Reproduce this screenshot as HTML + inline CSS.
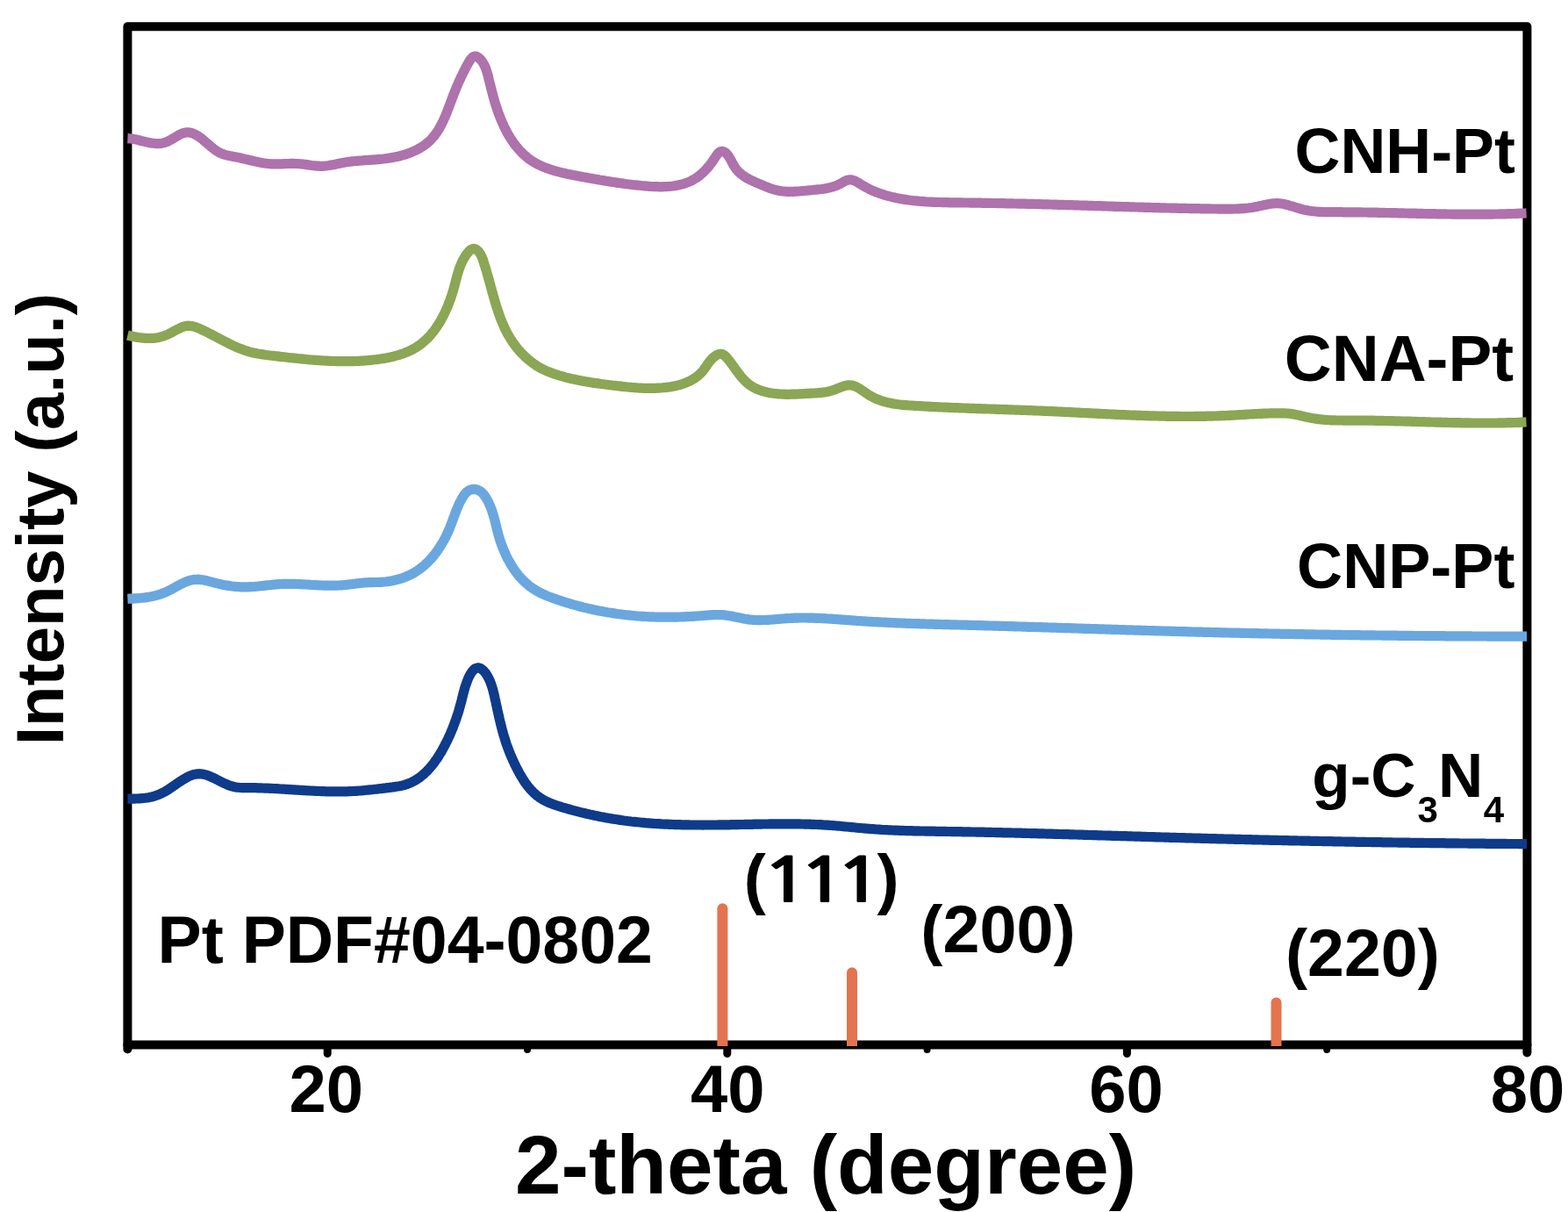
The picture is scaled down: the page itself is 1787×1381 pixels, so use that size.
<!DOCTYPE html>
<html><head><meta charset="utf-8"><title>XRD patterns</title>
<style>
html,body{margin:0;padding:0;background:#fff;}
body{width:1787px;height:1381px;overflow:hidden;}
svg{display:block;}
text{font-family:"Liberation Sans", Arial, sans-serif;font-weight:bold;fill:#000;}
</style></head><body>
<svg width="1787" height="1381" viewBox="0 0 1787 1381">
<rect width="1787" height="1381" fill="#fff"/>
<line x1="373.2" y1="1190.5" x2="373.2" y2="1200.5" stroke="#000" stroke-width="9" stroke-linecap="round"/>
<line x1="601.0" y1="1190.5" x2="601.0" y2="1196" stroke="#000" stroke-width="8" stroke-linecap="round"/>
<line x1="828.8" y1="1190.5" x2="828.8" y2="1200.5" stroke="#000" stroke-width="9" stroke-linecap="round"/>
<line x1="1056.6" y1="1190.5" x2="1056.6" y2="1196" stroke="#000" stroke-width="8" stroke-linecap="round"/>
<line x1="1284.4" y1="1190.5" x2="1284.4" y2="1200.5" stroke="#000" stroke-width="9" stroke-linecap="round"/>
<line x1="1512.2" y1="1190.5" x2="1512.2" y2="1196" stroke="#000" stroke-width="8" stroke-linecap="round"/>
<line x1="145.4" y1="1190.5" x2="145.4" y2="1195.5" stroke="#000" stroke-width="10" stroke-linecap="round"/>
<line x1="1740.4" y1="1190.5" x2="1740.4" y2="1199.5" stroke="#000" stroke-width="10" stroke-linecap="round"/>
<rect x="145.4" y="30.2" width="1595.0" height="1160.3" fill="none" stroke="#000" stroke-width="10" stroke-linejoin="round"/>
<path d="M817.4,1192 V1035.2 A6.0,6.0 0 0 1 829.4,1035.2 V1192 Z" fill="#E3744F"/>
<path d="M965.0,1192 V1108.3 A6.0,6.0 0 0 1 977.0,1108.3 V1192 Z" fill="#E3744F"/>
<path d="M1448.5,1192 V1142.5 A6.0,6.0 0 0 1 1460.5,1142.5 V1192 Z" fill="#E3744F"/>
<path d="M145.4,157.7 L147.4,157.8 L149.4,158.0 L151.4,158.3 L153.4,158.7 L155.3,159.1 L157.3,159.5 L159.2,160.0 L161.2,160.5 L163.1,160.9 L165.1,161.4 L167.0,161.9 L169.0,162.3 L170.9,162.7 L172.9,163.1 L174.9,163.3 L176.9,163.5 L178.9,163.6 L180.9,163.6 L182.9,163.5 L184.9,163.2 L186.8,162.7 L188.7,162.1 L190.6,161.4 L192.4,160.5 L194.2,159.6 L195.9,158.6 L197.6,157.6 L199.4,156.5 L201.1,155.5 L202.8,154.5 L204.6,153.5 L206.4,152.7 L208.2,151.9 L210.1,151.3 L212.1,150.9 L214.1,150.8 L216.1,151.0 L218.1,151.4 L220.0,152.1 L221.8,152.9 L223.6,153.8 L225.3,154.8 L227.0,155.9 L228.6,157.1 L230.2,158.3 L231.7,159.6 L233.3,160.9 L234.8,162.2 L236.3,163.5 L237.8,164.8 L239.3,166.1 L240.8,167.4 L242.4,168.7 L244.0,170.0 L245.6,171.1 L247.2,172.2 L249.0,173.3 L250.7,174.2 L252.6,175.0 L254.4,175.7 L256.4,176.3 L258.3,176.8 L260.2,177.3 L262.2,177.7 L264.2,178.1 L266.1,178.5 L268.1,178.8 L270.1,179.2 L272.1,179.6 L274.0,180.0 L276.0,180.5 L277.9,180.9 L279.9,181.4 L281.8,181.8 L283.8,182.3 L285.7,182.8 L287.7,183.2 L289.6,183.7 L291.6,184.1 L293.5,184.6 L295.5,185.0 L297.5,185.3 L299.4,185.7 L301.4,186.0 L303.4,186.3 L305.4,186.5 L307.4,186.7 L309.4,186.8 L311.4,186.9 L313.4,186.9 L315.4,186.9 L317.4,186.9 L319.4,186.8 L321.4,186.8 L323.4,186.7 L325.4,186.6 L327.4,186.5 L329.4,186.5 L331.4,186.4 L333.4,186.4 L335.4,186.4 L337.4,186.5 L339.4,186.5 L341.4,186.7 L343.4,186.9 L345.4,187.1 L347.4,187.3 L349.4,187.6 L351.4,187.9 L353.4,188.2 L355.4,188.5 L357.4,188.7 L359.3,188.9 L361.3,189.1 L363.3,189.2 L365.3,189.3 L367.3,189.3 L369.3,189.2 L371.3,189.0 L373.3,188.8 L375.3,188.5 L377.3,188.1 L379.3,187.8 L381.2,187.4 L383.2,187.0 L385.2,186.6 L387.1,186.2 L389.1,185.8 L391.1,185.4 L393.0,185.0 L395.0,184.7 L397.0,184.4 L399.0,184.2 L401.0,183.9 L403.0,183.7 L405.0,183.5 L407.0,183.3 L409.0,183.2 L410.9,183.0 L412.9,182.9 L414.9,182.7 L416.9,182.6 L418.9,182.5 L420.9,182.3 L422.9,182.2 L424.9,182.1 L426.9,181.9 L428.9,181.8 L430.9,181.6 L432.9,181.4 L434.9,181.2 L436.9,181.0 L438.9,180.8 L440.9,180.5 L442.9,180.2 L444.9,179.9 L446.8,179.6 L448.8,179.2 L450.8,178.8 L452.7,178.4 L454.7,178.0 L456.6,177.5 L458.6,176.9 L460.5,176.4 L462.4,175.8 L464.3,175.2 L466.2,174.5 L468.1,173.8 L469.9,173.0 L471.8,172.2 L473.6,171.4 L475.4,170.5 L477.1,169.5 L478.9,168.5 L480.6,167.5 L482.3,166.4 L483.9,165.2 L485.5,164.0 L487.1,162.8 L488.6,161.5 L490.1,160.1 L491.5,158.7 L492.8,157.2 L494.1,155.7 L495.4,154.1 L496.6,152.5 L497.7,150.9 L498.8,149.2 L499.9,147.5 L500.9,145.8 L501.9,144.0 L502.8,142.2 L503.7,140.5 L504.6,138.7 L505.5,136.8 L506.3,135.0 L507.1,133.2 L507.9,131.3 L508.6,129.5 L509.4,127.6 L510.1,125.8 L510.8,123.9 L511.6,122.0 L512.3,120.1 L513.0,118.3 L513.7,116.4 L514.4,114.5 L515.1,112.6 L515.8,110.7 L516.5,108.9 L517.2,107.0 L518.0,105.1 L518.7,103.3 L519.5,101.4 L520.2,99.6 L521.0,97.7 L521.8,95.9 L522.6,94.1 L523.4,92.2 L524.3,90.4 L525.1,88.6 L526.0,86.8 L526.9,85.0 L527.7,83.2 L528.6,81.4 L529.5,79.6 L530.5,77.8 L531.4,76.0 L532.3,74.3 L533.3,72.5 L534.3,70.8 L535.3,69.1 L536.5,67.4 L537.8,65.9 L539.3,64.7 L541.2,64.1 L543.2,64.4 L545.0,65.4 L546.5,66.6 L547.9,68.1 L549.2,69.6 L550.3,71.3 L551.3,73.0 L552.2,74.8 L553.1,76.6 L553.8,78.5 L554.4,80.4 L555.0,82.3 L555.6,84.2 L556.1,86.2 L556.6,88.1 L557.1,90.1 L557.5,92.0 L558.0,94.0 L558.5,95.9 L559.0,97.8 L559.5,99.8 L560.0,101.7 L560.5,103.7 L561.0,105.6 L561.5,107.6 L562.0,109.5 L562.5,111.4 L563.1,113.3 L563.6,115.3 L564.2,117.2 L564.8,119.1 L565.4,121.0 L566.0,122.9 L566.7,124.8 L567.3,126.7 L568.0,128.6 L568.7,130.5 L569.4,132.4 L570.1,134.2 L570.9,136.1 L571.7,137.9 L572.5,139.8 L573.3,141.6 L574.1,143.4 L575.0,145.2 L575.9,147.0 L576.8,148.8 L577.7,150.6 L578.7,152.3 L579.7,154.1 L580.7,155.8 L581.8,157.5 L582.9,159.2 L584.0,160.8 L585.1,162.5 L586.3,164.1 L587.5,165.7 L588.8,167.3 L590.0,168.8 L591.4,170.3 L592.7,171.8 L594.1,173.3 L595.5,174.7 L597.0,176.1 L598.4,177.4 L600.0,178.7 L601.5,180.0 L603.1,181.2 L604.8,182.4 L606.4,183.5 L608.1,184.5 L609.8,185.6 L611.6,186.5 L613.4,187.4 L615.2,188.3 L617.0,189.2 L618.8,190.0 L620.7,190.7 L622.6,191.4 L624.5,192.1 L626.3,192.8 L628.3,193.4 L630.2,194.0 L632.1,194.6 L634.0,195.1 L636.0,195.6 L637.9,196.1 L639.8,196.6 L641.8,197.1 L643.7,197.5 L645.7,198.0 L647.7,198.4 L649.6,198.8 L651.6,199.2 L653.6,199.6 L655.5,199.9 L657.5,200.3 L659.5,200.7 L661.4,201.1 L663.4,201.4 L665.4,201.8 L667.3,202.1 L669.3,202.5 L671.3,202.9 L673.3,203.2 L675.2,203.6 L677.2,203.9 L679.2,204.3 L681.2,204.6 L683.1,205.0 L685.1,205.3 L687.1,205.6 L689.1,205.9 L691.0,206.3 L693.0,206.6 L695.0,206.9 L697.0,207.2 L699.0,207.5 L700.9,207.8 L702.9,208.1 L704.9,208.4 L706.9,208.7 L708.9,208.9 L710.9,209.2 L712.9,209.5 L714.8,209.7 L716.8,210.0 L718.8,210.2 L720.8,210.5 L722.8,210.7 L724.8,210.9 L726.8,211.1 L728.8,211.3 L730.8,211.5 L732.8,211.7 L734.8,211.9 L736.8,212.1 L738.8,212.2 L740.8,212.4 L742.8,212.5 L744.8,212.6 L746.8,212.7 L748.8,212.7 L750.8,212.8 L752.8,212.8 L754.8,212.8 L756.8,212.7 L758.8,212.7 L760.8,212.5 L762.8,212.4 L764.8,212.2 L766.8,212.0 L768.8,211.7 L770.7,211.4 L772.7,211.0 L774.7,210.6 L776.6,210.1 L778.6,209.6 L780.5,209.0 L782.4,208.3 L784.2,207.6 L786.1,206.8 L787.9,206.0 L789.7,205.0 L791.4,204.0 L793.1,203.0 L794.8,201.8 L796.4,200.7 L797.9,199.4 L799.5,198.1 L801.0,196.8 L802.4,195.4 L803.8,194.0 L805.2,192.5 L806.5,191.0 L807.8,189.5 L809.1,187.9 L810.3,186.3 L811.5,184.7 L812.6,183.1 L813.7,181.4 L814.8,179.7 L815.9,178.0 L817.1,176.4 L818.3,174.8 L819.8,173.4 L821.5,172.5 L823.5,172.4 L825.4,173.1 L827.0,174.2 L828.5,175.6 L829.8,177.1 L830.9,178.8 L831.9,180.5 L832.9,182.2 L833.8,184.0 L834.7,185.8 L835.7,187.6 L836.7,189.3 L837.8,191.0 L839.0,192.6 L840.3,194.1 L841.6,195.6 L843.1,197.0 L844.6,198.3 L846.2,199.5 L847.8,200.7 L849.5,201.8 L851.2,202.8 L852.9,203.8 L854.7,204.7 L856.5,205.6 L858.3,206.4 L860.2,207.3 L862.0,208.1 L863.9,208.9 L865.7,209.6 L867.5,210.4 L869.4,211.2 L871.2,212.0 L873.1,212.8 L875.0,213.5 L876.8,214.2 L878.7,214.9 L880.6,215.5 L882.5,216.1 L884.5,216.6 L886.4,217.0 L888.4,217.4 L890.4,217.7 L892.4,218.0 L894.4,218.1 L896.4,218.3 L898.4,218.3 L900.4,218.4 L902.4,218.4 L904.4,218.3 L906.4,218.2 L908.4,218.1 L910.4,218.0 L912.4,217.8 L914.4,217.6 L916.4,217.5 L918.4,217.3 L920.4,217.1 L922.4,216.9 L924.4,216.7 L926.4,216.5 L928.3,216.3 L930.3,216.1 L932.3,215.9 L934.3,215.7 L936.3,215.5 L938.3,215.2 L940.3,214.9 L942.3,214.5 L944.2,214.1 L946.2,213.7 L948.1,213.2 L950.0,212.6 L951.9,211.9 L953.8,211.2 L955.6,210.3 L957.4,209.4 L959.2,208.5 L960.9,207.5 L962.7,206.5 L964.5,205.7 L966.4,205.1 L968.4,204.8 L970.4,204.9 L972.3,205.4 L974.2,206.1 L976.0,207.0 L977.7,208.0 L979.5,209.0 L981.2,210.1 L982.9,211.1 L984.6,212.2 L986.3,213.2 L988.1,214.1 L989.9,215.0 L991.7,215.9 L993.5,216.8 L995.3,217.6 L997.2,218.3 L999.0,219.1 L1000.9,219.8 L1002.8,220.4 L1004.7,221.1 L1006.6,221.7 L1008.5,222.3 L1010.4,222.8 L1012.4,223.4 L1014.3,223.9 L1016.3,224.4 L1018.2,224.8 L1020.2,225.3 L1022.1,225.7 L1024.1,226.1 L1026.1,226.4 L1028.0,226.8 L1030.0,227.1 L1032.0,227.4 L1034.0,227.7 L1036.0,228.0 L1038.0,228.2 L1039.9,228.5 L1041.9,228.7 L1043.9,228.9 L1045.9,229.1 L1047.9,229.3 L1049.9,229.4 L1051.9,229.6 L1053.9,229.7 L1055.9,229.9 L1057.9,230.0 L1059.9,230.1 L1061.9,230.2 L1063.9,230.3 L1065.9,230.3 L1067.9,230.4 L1069.9,230.5 L1071.9,230.5 L1073.9,230.6 L1076.0,230.6 L1078.0,230.7 L1080.0,230.7 L1082.0,230.8 L1084.0,230.8 L1086.0,230.8 L1088.0,230.8 L1090.0,230.9 L1092.0,230.9 L1094.0,230.9 L1096.0,230.9 L1098.0,231.0 L1100.0,231.0 L1102.0,231.0 L1104.0,231.0 L1106.0,231.1 L1108.0,231.1 L1110.0,231.1 L1112.0,231.2 L1114.0,231.2 L1116.0,231.2 L1118.0,231.2 L1120.0,231.3 L1122.0,231.3 L1124.1,231.3 L1126.1,231.4 L1128.1,231.4 L1130.1,231.5 L1132.1,231.5 L1134.1,231.5 L1136.1,231.6 L1138.1,231.6 L1140.1,231.6 L1142.1,231.7 L1144.1,231.7 L1146.1,231.8 L1148.1,231.8 L1150.1,231.8 L1152.1,231.9 L1154.1,231.9 L1156.1,232.0 L1158.1,232.0 L1160.1,232.1 L1162.1,232.1 L1164.1,232.2 L1166.1,232.2 L1168.1,232.2 L1170.1,232.3 L1172.1,232.3 L1174.2,232.4 L1176.2,232.4 L1178.2,232.5 L1180.2,232.5 L1182.2,232.6 L1184.2,232.7 L1186.2,232.7 L1188.2,232.8 L1190.2,232.8 L1192.2,232.9 L1194.2,232.9 L1196.2,233.0 L1198.2,233.0 L1200.2,233.1 L1202.2,233.2 L1204.2,233.2 L1206.2,233.3 L1208.2,233.3 L1210.2,233.4 L1212.2,233.4 L1214.2,233.5 L1216.2,233.6 L1218.2,233.6 L1220.2,233.7 L1222.2,233.7 L1224.2,233.8 L1226.2,233.9 L1228.3,233.9 L1230.3,234.0 L1232.3,234.1 L1234.3,234.1 L1236.3,234.2 L1238.3,234.2 L1240.3,234.3 L1242.3,234.4 L1244.3,234.4 L1246.3,234.5 L1248.3,234.6 L1250.3,234.6 L1252.3,234.7 L1254.3,234.7 L1256.3,234.8 L1258.3,234.9 L1260.3,234.9 L1262.3,235.0 L1264.3,235.1 L1266.3,235.1 L1268.3,235.2 L1270.3,235.3 L1272.3,235.3 L1274.3,235.4 L1276.3,235.4 L1278.3,235.5 L1280.3,235.6 L1282.3,235.6 L1284.3,235.7 L1286.4,235.7 L1288.4,235.8 L1290.4,235.9 L1292.4,235.9 L1294.4,236.0 L1296.4,236.0 L1298.4,236.1 L1300.4,236.2 L1302.4,236.2 L1304.4,236.3 L1306.4,236.3 L1308.4,236.4 L1310.4,236.4 L1312.4,236.5 L1314.4,236.6 L1316.4,236.6 L1318.4,236.7 L1320.4,236.7 L1322.4,236.8 L1324.4,236.8 L1326.4,236.9 L1328.4,236.9 L1330.4,237.0 L1332.4,237.0 L1334.4,237.1 L1336.4,237.1 L1338.4,237.2 L1340.5,237.2 L1342.5,237.3 L1344.5,237.3 L1346.5,237.3 L1348.5,237.4 L1350.5,237.4 L1352.5,237.5 L1354.5,237.5 L1356.5,237.6 L1358.5,237.6 L1360.5,237.6 L1362.5,237.7 L1364.5,237.7 L1366.5,237.7 L1368.5,237.8 L1370.5,237.8 L1372.5,237.8 L1374.5,237.9 L1376.5,237.9 L1378.5,237.9 L1380.5,238.0 L1382.5,238.0 L1384.5,238.0 L1386.5,238.0 L1388.6,238.1 L1390.6,238.1 L1392.6,238.1 L1394.6,238.1 L1396.6,238.1 L1398.6,238.1 L1400.6,238.1 L1402.6,238.1 L1404.6,238.1 L1406.6,238.0 L1408.6,238.0 L1410.6,237.9 L1412.6,237.8 L1414.6,237.7 L1416.6,237.6 L1418.6,237.4 L1420.6,237.2 L1422.6,237.0 L1424.6,236.7 L1426.6,236.5 L1428.5,236.2 L1430.5,235.8 L1432.5,235.4 L1434.4,235.0 L1436.4,234.6 L1438.4,234.2 L1440.3,233.7 L1442.3,233.3 L1444.2,232.9 L1446.2,232.5 L1448.2,232.2 L1450.2,231.9 L1452.2,231.8 L1454.2,231.7 L1456.2,231.7 L1458.2,231.8 L1460.2,232.0 L1462.1,232.3 L1464.1,232.7 L1466.1,233.2 L1468.0,233.7 L1469.9,234.3 L1471.8,234.8 L1473.8,235.4 L1475.7,236.0 L1477.6,236.6 L1479.5,237.2 L1481.4,237.8 L1483.4,238.3 L1485.3,238.8 L1487.3,239.3 L1489.2,239.6 L1491.2,240.0 L1493.2,240.3 L1495.2,240.6 L1497.2,240.8 L1499.1,241.0 L1501.1,241.2 L1503.1,241.3 L1505.1,241.4 L1507.1,241.5 L1509.1,241.6 L1511.2,241.6 L1513.2,241.7 L1515.2,241.7 L1517.2,241.7 L1519.2,241.7 L1521.2,241.7 L1523.2,241.7 L1525.2,241.7 L1527.2,241.7 L1529.2,241.7 L1531.2,241.8 L1533.2,241.8 L1535.2,241.8 L1537.2,241.8 L1539.2,241.8 L1541.2,241.8 L1543.2,241.8 L1545.2,241.9 L1547.2,241.9 L1549.2,241.9 L1551.2,241.9 L1553.2,242.0 L1555.2,242.0 L1557.3,242.0 L1559.3,242.1 L1561.3,242.1 L1563.3,242.1 L1565.3,242.2 L1567.3,242.2 L1569.3,242.2 L1571.3,242.3 L1573.3,242.3 L1575.3,242.4 L1577.3,242.4 L1579.3,242.5 L1581.3,242.5 L1583.3,242.5 L1585.3,242.6 L1587.3,242.6 L1589.3,242.7 L1591.3,242.7 L1593.3,242.8 L1595.3,242.8 L1597.3,242.9 L1599.3,242.9 L1601.3,243.0 L1603.3,243.0 L1605.3,243.1 L1607.4,243.1 L1609.4,243.2 L1611.4,243.2 L1613.4,243.2 L1615.4,243.3 L1617.4,243.3 L1619.4,243.4 L1621.4,243.4 L1623.4,243.5 L1625.4,243.5 L1627.4,243.6 L1629.4,243.6 L1631.4,243.6 L1633.4,243.7 L1635.4,243.7 L1637.4,243.8 L1639.4,243.8 L1641.4,243.8 L1643.4,243.9 L1645.4,243.9 L1647.4,243.9 L1649.4,244.0 L1651.4,244.0 L1653.4,244.0 L1655.4,244.1 L1657.5,244.1 L1659.5,244.1 L1661.5,244.1 L1663.5,244.1 L1665.5,244.2 L1667.5,244.2 L1669.5,244.2 L1671.5,244.2 L1673.5,244.2 L1675.5,244.2 L1677.5,244.2 L1679.5,244.2 L1681.5,244.2 L1683.5,244.2 L1685.5,244.2 L1687.5,244.2 L1689.5,244.2 L1691.5,244.2 L1693.5,244.2 L1695.5,244.1 L1697.5,244.1 L1699.5,244.1 L1701.6,244.1 L1703.6,244.0 L1705.6,244.0 L1707.6,244.0 L1709.6,243.9 L1711.6,243.9 L1713.6,243.8 L1715.6,243.8 L1717.6,243.7 L1719.6,243.7 L1721.6,243.6 L1723.6,243.5 L1725.6,243.5 L1727.6,243.4 L1729.6,243.3 L1731.6,243.2 L1733.6,243.2 L1735.6,243.1 L1737.6,243.0 L1739.6,242.9" fill="none" stroke="#AE72AC" stroke-width="11.2" stroke-linejoin="round" stroke-linecap="butt"/>
<path d="M145.4,382.0 L147.4,382.5 L149.3,382.9 L151.3,383.3 L153.2,383.7 L155.2,384.1 L157.2,384.4 L159.2,384.7 L161.1,384.9 L163.1,385.2 L165.1,385.3 L167.1,385.4 L169.1,385.5 L171.1,385.5 L173.1,385.4 L175.1,385.3 L177.1,385.1 L179.1,384.8 L181.1,384.4 L183.0,383.9 L184.9,383.4 L186.8,382.8 L188.7,382.1 L190.6,381.3 L192.4,380.5 L194.2,379.6 L196.0,378.7 L197.7,377.7 L199.5,376.7 L201.2,375.8 L203.0,374.9 L204.8,374.0 L206.6,373.2 L208.5,372.4 L210.4,371.8 L212.4,371.4 L214.4,371.2 L216.4,371.3 L218.4,371.5 L220.3,371.9 L222.3,372.5 L224.1,373.1 L226.0,373.9 L227.8,374.7 L229.7,375.5 L231.5,376.3 L233.3,377.2 L235.1,378.1 L236.9,379.0 L238.7,379.9 L240.5,380.8 L242.2,381.7 L244.0,382.7 L245.8,383.6 L247.5,384.5 L249.3,385.5 L251.1,386.4 L252.9,387.4 L254.6,388.3 L256.4,389.2 L258.2,390.1 L260.0,391.0 L261.8,391.9 L263.6,392.8 L265.4,393.7 L267.2,394.5 L269.0,395.3 L270.9,396.1 L272.7,396.9 L274.6,397.6 L276.4,398.3 L278.3,399.0 L280.2,399.6 L282.1,400.2 L284.1,400.8 L286.0,401.3 L288.0,401.8 L289.9,402.2 L291.9,402.6 L293.8,403.0 L295.8,403.3 L297.8,403.6 L299.8,403.9 L301.8,404.2 L303.7,404.5 L305.7,404.7 L307.7,405.0 L309.7,405.2 L311.7,405.4 L313.7,405.7 L315.7,405.9 L317.7,406.1 L319.7,406.4 L321.6,406.6 L323.6,406.8 L325.6,407.0 L327.6,407.3 L329.6,407.5 L331.6,407.7 L333.6,407.9 L335.6,408.1 L337.6,408.3 L339.6,408.5 L341.6,408.7 L343.5,408.9 L345.5,409.1 L347.5,409.3 L349.5,409.5 L351.5,409.7 L353.5,409.9 L355.5,410.0 L357.5,410.2 L359.5,410.3 L361.5,410.5 L363.5,410.6 L365.5,410.8 L367.5,410.9 L369.5,411.0 L371.5,411.1 L373.5,411.2 L375.5,411.3 L377.5,411.4 L379.5,411.5 L381.5,411.5 L383.5,411.6 L385.5,411.6 L387.5,411.7 L389.5,411.7 L391.5,411.7 L393.5,411.7 L395.5,411.7 L397.5,411.7 L399.5,411.7 L401.5,411.6 L403.5,411.6 L405.5,411.5 L407.5,411.4 L409.5,411.3 L411.5,411.2 L413.5,411.1 L415.5,410.9 L417.5,410.8 L419.5,410.6 L421.5,410.4 L423.5,410.3 L425.5,410.0 L427.5,409.8 L429.5,409.6 L431.5,409.3 L433.5,409.0 L435.4,408.7 L437.4,408.4 L439.4,408.1 L441.4,407.7 L443.3,407.3 L445.3,406.9 L447.2,406.4 L449.2,406.0 L451.1,405.4 L453.0,404.9 L455.0,404.3 L456.9,403.7 L458.8,403.1 L460.6,402.4 L462.5,401.6 L464.4,400.9 L466.2,400.1 L468.0,399.2 L469.8,398.3 L471.5,397.3 L473.3,396.3 L475.0,395.3 L476.7,394.2 L478.3,393.1 L479.9,391.9 L481.5,390.6 L483.0,389.3 L484.5,388.0 L486.0,386.6 L487.4,385.2 L488.8,383.8 L490.1,382.3 L491.4,380.8 L492.7,379.2 L494.0,377.7 L495.2,376.1 L496.4,374.5 L497.5,372.8 L498.6,371.1 L499.7,369.5 L500.8,367.8 L501.8,366.0 L502.8,364.3 L503.7,362.5 L504.7,360.8 L505.6,359.0 L506.5,357.2 L507.3,355.4 L508.2,353.6 L509.0,351.7 L509.8,349.9 L510.6,348.0 L511.3,346.2 L512.0,344.3 L512.7,342.4 L513.4,340.6 L514.0,338.7 L514.7,336.8 L515.3,334.9 L515.9,332.9 L516.5,331.0 L517.0,329.1 L517.5,327.2 L518.1,325.2 L518.6,323.3 L519.1,321.4 L519.6,319.4 L520.1,317.5 L520.6,315.5 L521.1,313.6 L521.7,311.7 L522.3,309.8 L522.9,307.9 L523.5,306.0 L524.2,304.1 L524.9,302.2 L525.7,300.4 L526.5,298.5 L527.4,296.7 L528.4,295.0 L529.4,293.3 L530.4,291.6 L531.6,289.9 L532.8,288.3 L534.1,286.8 L535.5,285.4 L537.1,284.1 L538.9,283.4 L540.9,283.4 L542.7,284.3 L544.3,285.5 L545.7,286.9 L546.9,288.5 L547.9,290.3 L548.8,292.0 L549.6,293.9 L550.3,295.8 L550.9,297.7 L551.5,299.6 L552.1,301.5 L552.7,303.4 L553.3,305.3 L553.9,307.2 L554.5,309.1 L555.0,311.1 L555.6,313.0 L556.1,314.9 L556.7,316.8 L557.2,318.8 L557.7,320.7 L558.3,322.6 L558.8,324.6 L559.3,326.5 L559.9,328.4 L560.4,330.4 L560.9,332.3 L561.4,334.2 L562.0,336.2 L562.5,338.1 L563.1,340.0 L563.6,341.9 L564.2,343.9 L564.8,345.8 L565.3,347.7 L565.9,349.6 L566.6,351.5 L567.2,353.4 L567.8,355.3 L568.5,357.2 L569.1,359.1 L569.8,361.0 L570.5,362.9 L571.3,364.7 L572.0,366.6 L572.8,368.4 L573.6,370.3 L574.4,372.1 L575.2,373.9 L576.1,375.7 L577.0,377.5 L577.9,379.3 L578.9,381.0 L579.9,382.8 L580.9,384.5 L581.9,386.2 L583.0,387.9 L584.1,389.6 L585.3,391.2 L586.4,392.8 L587.6,394.4 L588.9,396.0 L590.1,397.6 L591.4,399.1 L592.8,400.6 L594.1,402.1 L595.5,403.5 L596.9,404.9 L598.4,406.3 L599.8,407.7 L601.3,409.0 L602.9,410.3 L604.4,411.6 L606.0,412.8 L607.6,414.0 L609.3,415.1 L610.9,416.3 L612.6,417.3 L614.3,418.4 L616.1,419.3 L617.8,420.3 L619.6,421.2 L621.4,422.0 L623.3,422.8 L625.1,423.6 L627.0,424.3 L628.9,425.0 L630.8,425.7 L632.7,426.4 L634.6,427.0 L636.5,427.6 L638.4,428.1 L640.3,428.7 L642.2,429.2 L644.2,429.8 L646.1,430.3 L648.1,430.8 L650.0,431.2 L652.0,431.7 L653.9,432.1 L655.9,432.5 L657.8,432.9 L659.8,433.3 L661.8,433.7 L663.7,434.1 L665.7,434.4 L667.7,434.8 L669.6,435.1 L671.6,435.4 L673.6,435.8 L675.6,436.1 L677.6,436.4 L679.5,436.6 L681.5,436.9 L683.5,437.2 L685.5,437.5 L687.5,437.7 L689.5,438.0 L691.5,438.2 L693.4,438.5 L695.4,438.7 L697.4,439.0 L699.4,439.2 L701.4,439.4 L703.4,439.7 L705.4,439.9 L707.4,440.1 L709.4,440.4 L711.3,440.6 L713.3,440.8 L715.3,441.0 L717.3,441.2 L719.3,441.4 L721.3,441.5 L723.3,441.7 L725.3,441.8 L727.3,442.0 L729.3,442.1 L731.3,442.2 L733.3,442.3 L735.3,442.3 L737.3,442.4 L739.3,442.4 L741.3,442.4 L743.3,442.4 L745.3,442.4 L747.3,442.3 L749.3,442.2 L751.3,442.1 L753.3,442.0 L755.3,441.8 L757.3,441.6 L759.3,441.4 L761.3,441.1 L763.3,440.9 L765.3,440.6 L767.2,440.2 L769.2,439.8 L771.1,439.4 L773.1,438.9 L775.0,438.4 L776.9,437.8 L778.8,437.2 L780.7,436.5 L782.6,435.7 L784.4,434.9 L786.2,434.1 L788.0,433.1 L789.7,432.1 L791.4,431.1 L793.1,429.9 L794.7,428.7 L796.2,427.4 L797.7,426.1 L799.1,424.7 L800.5,423.2 L801.7,421.7 L802.9,420.1 L804.1,418.4 L805.2,416.8 L806.4,415.1 L807.5,413.5 L808.7,411.9 L810.0,410.3 L811.3,408.8 L812.8,407.5 L814.3,406.2 L816.0,405.0 L817.7,404.1 L819.6,403.5 L821.6,403.3 L823.6,403.8 L825.3,404.8 L826.9,406.0 L828.2,407.5 L829.5,409.0 L830.8,410.6 L832.0,412.2 L833.2,413.8 L834.4,415.4 L835.6,417.0 L836.7,418.6 L837.9,420.3 L839.1,421.9 L840.3,423.5 L841.5,425.1 L842.7,426.7 L843.9,428.3 L845.2,429.8 L846.5,431.3 L847.9,432.8 L849.3,434.2 L850.7,435.6 L852.2,436.9 L853.8,438.2 L855.4,439.3 L857.1,440.4 L858.8,441.4 L860.6,442.4 L862.4,443.2 L864.3,444.0 L866.2,444.7 L868.1,445.3 L870.0,445.9 L871.9,446.4 L873.9,446.9 L875.8,447.3 L877.8,447.7 L879.8,448.0 L881.7,448.3 L883.7,448.5 L885.7,448.7 L887.7,448.9 L889.7,449.0 L891.7,449.1 L893.7,449.2 L895.7,449.3 L897.7,449.3 L899.7,449.3 L901.7,449.2 L903.7,449.2 L905.7,449.1 L907.7,449.1 L909.7,449.0 L911.7,448.9 L913.7,448.8 L915.7,448.7 L917.7,448.5 L919.7,448.4 L921.7,448.3 L923.7,448.2 L925.7,448.1 L927.7,448.0 L929.7,447.9 L931.7,447.8 L933.7,447.6 L935.7,447.4 L937.7,447.2 L939.7,446.9 L941.7,446.6 L943.6,446.2 L945.6,445.7 L947.5,445.2 L949.4,444.6 L951.3,443.9 L953.2,443.2 L955.0,442.4 L956.9,441.7 L958.8,441.0 L960.6,440.3 L962.6,439.7 L964.5,439.2 L966.5,438.9 L968.5,438.9 L970.5,439.0 L972.4,439.5 L974.3,440.1 L976.2,441.0 L977.9,441.9 L979.7,442.9 L981.3,444.0 L983.0,445.1 L984.7,446.2 L986.3,447.4 L988.0,448.5 L989.6,449.6 L991.3,450.7 L993.1,451.7 L994.8,452.6 L996.6,453.5 L998.4,454.3 L1000.3,455.1 L1002.2,455.8 L1004.0,456.5 L1005.9,457.1 L1007.9,457.7 L1009.8,458.2 L1011.7,458.7 L1013.7,459.1 L1015.7,459.5 L1017.6,459.9 L1019.6,460.2 L1021.6,460.5 L1023.6,460.8 L1025.6,461.0 L1027.6,461.2 L1029.6,461.4 L1031.5,461.6 L1033.5,461.7 L1035.5,461.9 L1037.5,462.0 L1039.5,462.1 L1041.5,462.3 L1043.5,462.4 L1045.5,462.5 L1047.5,462.6 L1049.5,462.7 L1051.5,462.8 L1053.5,463.0 L1055.5,463.1 L1057.5,463.2 L1059.5,463.3 L1061.5,463.4 L1063.5,463.5 L1065.5,463.6 L1067.5,463.7 L1069.5,463.8 L1071.5,463.9 L1073.5,464.0 L1075.5,464.1 L1077.5,464.1 L1079.5,464.2 L1081.5,464.3 L1083.5,464.4 L1085.5,464.5 L1087.6,464.6 L1089.6,464.7 L1091.6,464.7 L1093.6,464.8 L1095.6,464.9 L1097.6,465.0 L1099.6,465.0 L1101.6,465.1 L1103.6,465.2 L1105.6,465.3 L1107.6,465.3 L1109.6,465.4 L1111.6,465.5 L1113.6,465.6 L1115.6,465.6 L1117.6,465.7 L1119.6,465.8 L1121.6,465.8 L1123.6,465.9 L1125.6,466.0 L1127.6,466.0 L1129.6,466.1 L1131.6,466.2 L1133.6,466.2 L1135.6,466.3 L1137.6,466.4 L1139.6,466.4 L1141.6,466.5 L1143.6,466.6 L1145.6,466.6 L1147.6,466.7 L1149.6,466.8 L1151.6,466.8 L1153.6,466.9 L1155.6,467.0 L1157.6,467.1 L1159.6,467.1 L1161.6,467.2 L1163.6,467.3 L1165.6,467.3 L1167.6,467.4 L1169.6,467.5 L1171.6,467.6 L1173.6,467.6 L1175.6,467.7 L1177.6,467.8 L1179.6,467.9 L1181.6,468.0 L1183.6,468.0 L1185.6,468.1 L1187.6,468.2 L1189.6,468.3 L1191.6,468.4 L1193.6,468.5 L1195.6,468.6 L1197.6,468.6 L1199.6,468.7 L1201.6,468.8 L1203.6,468.9 L1205.6,469.0 L1207.6,469.1 L1209.6,469.2 L1211.6,469.3 L1213.6,469.4 L1215.6,469.5 L1217.6,469.6 L1219.6,469.7 L1221.6,469.8 L1223.6,469.9 L1225.6,470.0 L1227.6,470.1 L1229.6,470.2 L1231.7,470.3 L1233.7,470.4 L1235.7,470.5 L1237.7,470.6 L1239.7,470.7 L1241.7,470.8 L1243.7,470.9 L1245.7,471.0 L1247.7,471.1 L1249.7,471.2 L1251.7,471.3 L1253.7,471.4 L1255.7,471.5 L1257.7,471.6 L1259.7,471.7 L1261.7,471.8 L1263.7,471.9 L1265.7,472.0 L1267.7,472.1 L1269.7,472.2 L1271.7,472.3 L1273.7,472.4 L1275.7,472.5 L1277.7,472.6 L1279.7,472.6 L1281.7,472.7 L1283.7,472.8 L1285.7,472.9 L1287.7,473.0 L1289.7,473.1 L1291.7,473.1 L1293.7,473.2 L1295.7,473.3 L1297.7,473.4 L1299.7,473.4 L1301.7,473.5 L1303.7,473.6 L1305.7,473.6 L1307.7,473.7 L1309.7,473.8 L1311.7,473.8 L1313.7,473.9 L1315.7,473.9 L1317.7,474.0 L1319.7,474.0 L1321.7,474.1 L1323.7,474.1 L1325.7,474.2 L1327.7,474.2 L1329.7,474.3 L1331.7,474.3 L1333.7,474.3 L1335.7,474.4 L1337.7,474.4 L1339.7,474.4 L1341.7,474.4 L1343.7,474.4 L1345.7,474.5 L1347.7,474.5 L1349.7,474.5 L1351.7,474.5 L1353.7,474.5 L1355.8,474.5 L1357.8,474.5 L1359.8,474.5 L1361.8,474.4 L1363.8,474.4 L1365.8,474.4 L1367.8,474.4 L1369.8,474.3 L1371.8,474.3 L1373.8,474.3 L1375.8,474.2 L1377.8,474.2 L1379.8,474.1 L1381.8,474.1 L1383.8,474.0 L1385.8,474.0 L1387.8,473.9 L1389.8,473.8 L1391.8,473.7 L1393.8,473.7 L1395.8,473.6 L1397.8,473.5 L1399.8,473.4 L1401.8,473.3 L1403.8,473.2 L1405.8,473.1 L1407.8,473.0 L1409.8,472.8 L1411.8,472.7 L1413.8,472.6 L1415.8,472.5 L1417.8,472.4 L1419.8,472.3 L1421.8,472.1 L1423.8,472.0 L1425.8,471.9 L1427.8,471.8 L1429.8,471.7 L1431.8,471.6 L1433.8,471.5 L1435.8,471.4 L1437.8,471.3 L1439.8,471.2 L1441.8,471.1 L1443.8,471.1 L1445.8,471.0 L1447.8,470.9 L1449.8,470.9 L1451.8,470.8 L1453.8,470.8 L1455.8,470.8 L1457.8,470.8 L1459.8,470.8 L1461.8,470.8 L1463.8,470.9 L1465.8,471.0 L1467.8,471.1 L1469.8,471.3 L1471.8,471.6 L1473.8,471.9 L1475.8,472.3 L1477.7,472.7 L1479.7,473.1 L1481.6,473.5 L1483.6,474.0 L1485.5,474.4 L1487.5,474.9 L1489.4,475.3 L1491.4,475.7 L1493.4,476.1 L1495.3,476.5 L1497.3,476.8 L1499.3,477.1 L1501.3,477.4 L1503.3,477.7 L1505.2,477.9 L1507.2,478.1 L1509.2,478.3 L1511.2,478.4 L1513.2,478.5 L1515.2,478.7 L1517.2,478.8 L1519.2,478.8 L1521.2,478.9 L1523.2,479.0 L1525.2,479.0 L1527.2,479.0 L1529.2,479.0 L1531.2,479.1 L1533.3,479.1 L1535.3,479.1 L1537.3,479.1 L1539.3,479.1 L1541.3,479.1 L1543.3,479.1 L1545.3,479.1 L1547.3,479.1 L1549.3,479.1 L1551.3,479.1 L1553.3,479.1 L1555.3,479.1 L1557.3,479.1 L1559.3,479.2 L1561.3,479.2 L1563.3,479.2 L1565.3,479.2 L1567.3,479.3 L1569.3,479.3 L1571.3,479.3 L1573.3,479.4 L1575.3,479.4 L1577.3,479.5 L1579.3,479.5 L1581.3,479.6 L1583.3,479.6 L1585.3,479.7 L1587.3,479.7 L1589.3,479.8 L1591.3,479.8 L1593.3,479.9 L1595.3,479.9 L1597.3,480.0 L1599.3,480.0 L1601.3,480.1 L1603.3,480.1 L1605.3,480.2 L1607.4,480.2 L1609.4,480.3 L1611.4,480.4 L1613.4,480.4 L1615.4,480.5 L1617.4,480.5 L1619.4,480.6 L1621.4,480.7 L1623.4,480.7 L1625.4,480.8 L1627.4,480.8 L1629.4,480.9 L1631.4,481.0 L1633.4,481.0 L1635.4,481.1 L1637.4,481.1 L1639.4,481.2 L1641.4,481.2 L1643.4,481.3 L1645.4,481.3 L1647.4,481.4 L1649.4,481.4 L1651.4,481.5 L1653.4,481.5 L1655.4,481.6 L1657.4,481.6 L1659.4,481.7 L1661.4,481.7 L1663.4,481.7 L1665.4,481.8 L1667.4,481.8 L1669.4,481.8 L1671.4,481.9 L1673.4,481.9 L1675.4,481.9 L1677.4,482.0 L1679.4,482.0 L1681.4,482.0 L1683.4,482.0 L1685.4,482.0 L1687.4,482.0 L1689.5,482.0 L1691.5,482.0 L1693.5,482.0 L1695.5,482.0 L1697.5,482.0 L1699.5,482.0 L1701.5,482.0 L1703.5,482.0 L1705.5,482.0 L1707.5,481.9 L1709.5,481.9 L1711.5,481.9 L1713.5,481.8 L1715.5,481.8 L1717.5,481.7 L1719.5,481.7 L1721.5,481.6 L1723.5,481.6 L1725.5,481.5 L1727.5,481.5 L1729.5,481.4 L1731.5,481.3 L1733.5,481.2 L1735.5,481.1 L1737.5,481.0 L1739.5,480.9" fill="none" stroke="#8BA654" stroke-width="11.2" stroke-linejoin="round" stroke-linecap="butt"/>
<path d="M145.4,682.3 L147.4,682.2 L149.4,682.1 L151.4,682.1 L153.4,681.9 L155.4,681.8 L157.4,681.7 L159.4,681.5 L161.4,681.3 L163.4,681.1 L165.4,680.9 L167.3,680.6 L169.3,680.3 L171.3,680.0 L173.2,679.6 L175.2,679.1 L177.2,678.7 L179.1,678.2 L181.0,677.6 L182.9,677.0 L184.8,676.3 L186.7,675.6 L188.5,674.8 L190.3,674.0 L192.2,673.1 L193.9,672.2 L195.7,671.3 L197.5,670.3 L199.2,669.4 L201.0,668.4 L202.7,667.4 L204.5,666.5 L206.3,665.6 L208.0,664.7 L209.9,663.8 L211.7,663.0 L213.6,662.3 L215.5,661.7 L217.4,661.1 L219.4,660.7 L221.3,660.4 L223.3,660.3 L225.3,660.2 L227.3,660.3 L229.3,660.6 L231.3,660.8 L233.3,661.2 L235.2,661.6 L237.2,662.1 L239.1,662.6 L241.1,663.1 L243.0,663.6 L244.9,664.1 L246.9,664.6 L248.8,665.1 L250.8,665.6 L252.7,666.0 L254.7,666.4 L256.6,666.8 L258.6,667.1 L260.6,667.4 L262.6,667.7 L264.6,668.0 L266.5,668.2 L268.5,668.4 L270.5,668.5 L272.5,668.7 L274.5,668.8 L276.5,668.8 L278.5,668.9 L280.5,668.8 L282.5,668.8 L284.5,668.7 L286.5,668.6 L288.5,668.5 L290.5,668.4 L292.5,668.2 L294.5,668.0 L296.5,667.8 L298.5,667.6 L300.5,667.4 L302.5,667.1 L304.5,666.9 L306.5,666.7 L308.5,666.5 L310.5,666.3 L312.4,666.1 L314.4,665.9 L316.4,665.7 L318.4,665.6 L320.4,665.5 L322.4,665.4 L324.4,665.4 L326.4,665.3 L328.4,665.3 L330.4,665.3 L332.4,665.3 L334.4,665.4 L336.4,665.4 L338.5,665.5 L340.5,665.6 L342.5,665.7 L344.5,665.8 L346.5,665.9 L348.5,666.0 L350.4,666.1 L352.4,666.2 L354.4,666.4 L356.4,666.5 L358.4,666.6 L360.4,666.7 L362.4,666.8 L364.4,666.9 L366.4,667.0 L368.4,667.1 L370.4,667.1 L372.4,667.2 L374.4,667.2 L376.5,667.2 L378.5,667.2 L380.5,667.2 L382.5,667.2 L384.5,667.1 L386.5,667.0 L388.5,666.9 L390.5,666.8 L392.5,666.6 L394.4,666.4 L396.4,666.2 L398.4,665.9 L400.4,665.7 L402.4,665.4 L404.4,665.2 L406.4,664.9 L408.4,664.7 L410.3,664.4 L412.3,664.2 L414.3,664.0 L416.3,663.9 L418.3,663.8 L420.3,663.7 L422.3,663.6 L424.3,663.6 L426.3,663.5 L428.3,663.5 L430.3,663.5 L432.3,663.4 L434.3,663.3 L436.3,663.2 L438.3,663.0 L440.3,662.8 L442.3,662.5 L444.3,662.2 L446.3,661.9 L448.2,661.5 L450.2,661.0 L452.1,660.6 L454.1,660.0 L456.0,659.5 L457.9,658.9 L459.8,658.2 L461.6,657.5 L463.5,656.7 L465.3,656.0 L467.2,655.1 L468.9,654.2 L470.7,653.3 L472.4,652.3 L474.2,651.2 L475.8,650.1 L477.5,649.0 L479.1,647.8 L480.7,646.6 L482.2,645.3 L483.8,644.0 L485.2,642.7 L486.7,641.3 L488.1,639.9 L489.5,638.5 L490.9,637.0 L492.2,635.5 L493.5,634.0 L494.8,632.4 L496.0,630.8 L497.2,629.2 L498.4,627.6 L499.5,626.0 L500.6,624.3 L501.7,622.6 L502.8,620.9 L503.8,619.2 L504.8,617.5 L505.8,615.7 L506.7,614.0 L507.7,612.2 L508.6,610.4 L509.4,608.6 L510.3,606.8 L511.1,605.0 L511.9,603.1 L512.7,601.3 L513.4,599.4 L514.1,597.6 L514.8,595.7 L515.5,593.8 L516.2,591.9 L516.9,590.0 L517.6,588.2 L518.3,586.3 L519.0,584.4 L519.7,582.5 L520.4,580.7 L521.2,578.8 L522.0,577.0 L522.8,575.1 L523.6,573.3 L524.5,571.5 L525.5,569.8 L526.4,568.0 L527.4,566.3 L528.5,564.6 L529.7,563.0 L531.0,561.5 L532.5,560.1 L534.2,559.0 L536.0,558.2 L537.9,557.6 L539.9,557.4 L541.9,557.6 L543.8,558.0 L545.7,558.8 L547.4,559.8 L549.0,561.0 L550.4,562.5 L551.7,564.0 L552.8,565.6 L553.9,567.3 L554.9,569.0 L555.9,570.8 L556.8,572.6 L557.6,574.4 L558.5,576.2 L559.2,578.1 L559.9,579.9 L560.6,581.8 L561.2,583.7 L561.8,585.6 L562.4,587.6 L563.0,589.5 L563.5,591.4 L564.0,593.4 L564.5,595.3 L564.9,597.2 L565.4,599.2 L565.9,601.1 L566.4,603.1 L566.9,605.0 L567.4,607.0 L567.9,608.9 L568.4,610.8 L569.0,612.7 L569.6,614.6 L570.2,616.6 L570.9,618.4 L571.5,620.3 L572.2,622.2 L573.0,624.1 L573.7,625.9 L574.5,627.8 L575.3,629.6 L576.1,631.4 L577.0,633.3 L577.8,635.1 L578.7,636.8 L579.7,638.6 L580.7,640.4 L581.7,642.1 L582.7,643.8 L583.7,645.5 L584.8,647.2 L585.9,648.9 L587.1,650.5 L588.3,652.1 L589.5,653.7 L590.7,655.3 L592.0,656.8 L593.3,658.3 L594.7,659.8 L596.1,661.2 L597.5,662.6 L599.0,664.0 L600.5,665.3 L602.0,666.6 L603.6,667.9 L605.2,669.1 L606.8,670.2 L608.5,671.3 L610.2,672.4 L611.9,673.4 L613.7,674.4 L615.4,675.3 L617.2,676.2 L619.1,677.0 L620.9,677.8 L622.7,678.6 L624.6,679.4 L626.4,680.1 L628.3,680.8 L630.2,681.5 L632.1,682.2 L634.0,682.8 L635.9,683.5 L637.8,684.1 L639.7,684.7 L641.6,685.4 L643.5,686.0 L645.4,686.6 L647.3,687.2 L649.2,687.7 L651.1,688.3 L653.1,688.9 L655.0,689.4 L656.9,689.9 L658.9,690.5 L660.8,691.0 L662.7,691.5 L664.7,692.0 L666.6,692.4 L668.6,692.9 L670.5,693.4 L672.5,693.8 L674.4,694.2 L676.4,694.7 L678.3,695.1 L680.3,695.5 L682.3,695.9 L684.2,696.2 L686.2,696.6 L688.2,697.0 L690.1,697.3 L692.1,697.7 L694.1,698.0 L696.1,698.3 L698.0,698.6 L700.0,698.9 L702.0,699.2 L704.0,699.5 L706.0,699.7 L708.0,700.0 L709.9,700.3 L711.9,700.5 L713.9,700.7 L715.9,700.9 L717.9,701.1 L719.9,701.3 L721.9,701.5 L723.9,701.7 L725.9,701.9 L727.9,702.0 L729.9,702.2 L731.9,702.3 L733.9,702.4 L735.9,702.5 L737.9,702.7 L739.9,702.8 L741.9,702.8 L743.9,702.9 L745.9,703.0 L747.9,703.1 L749.9,703.1 L751.9,703.1 L753.9,703.2 L755.9,703.2 L757.9,703.2 L759.9,703.2 L761.9,703.2 L763.9,703.2 L765.9,703.2 L767.9,703.2 L769.9,703.1 L771.9,703.1 L773.9,703.0 L775.9,703.0 L777.9,702.9 L779.9,702.8 L781.9,702.7 L783.9,702.6 L785.9,702.5 L787.9,702.4 L789.9,702.3 L791.9,702.2 L793.9,702.0 L795.9,701.9 L797.9,701.7 L799.9,701.5 L801.9,701.4 L803.9,701.2 L805.9,701.1 L807.9,700.9 L809.9,700.8 L811.9,700.7 L813.9,700.6 L815.9,700.5 L817.9,700.5 L819.9,700.5 L821.9,700.6 L823.9,700.7 L825.9,700.9 L827.9,701.2 L829.8,701.5 L831.8,701.8 L833.8,702.1 L835.7,702.5 L837.7,702.9 L839.7,703.3 L841.6,703.7 L843.6,704.1 L845.6,704.5 L847.5,704.9 L849.5,705.3 L851.5,705.6 L853.4,705.9 L855.4,706.1 L857.4,706.3 L859.4,706.4 L861.4,706.5 L863.4,706.6 L865.4,706.6 L867.4,706.6 L869.4,706.5 L871.4,706.5 L873.4,706.4 L875.4,706.3 L877.4,706.2 L879.4,706.0 L881.4,705.9 L883.4,705.7 L885.4,705.5 L887.4,705.4 L889.4,705.2 L891.4,705.0 L893.4,704.9 L895.4,704.7 L897.4,704.6 L899.4,704.5 L901.4,704.4 L903.4,704.3 L905.4,704.2 L907.4,704.1 L909.4,704.1 L911.4,704.0 L913.4,704.0 L915.4,704.0 L917.4,704.0 L919.4,704.0 L921.4,704.1 L923.4,704.1 L925.4,704.1 L927.4,704.2 L929.4,704.3 L931.4,704.3 L933.4,704.4 L935.4,704.5 L937.4,704.6 L939.4,704.7 L941.4,704.8 L943.4,705.0 L945.4,705.1 L947.4,705.2 L949.4,705.3 L951.4,705.5 L953.4,705.6 L955.4,705.8 L957.4,705.9 L959.4,706.1 L961.4,706.2 L963.4,706.3 L965.4,706.5 L967.4,706.6 L969.4,706.8 L971.4,706.9 L973.4,707.1 L975.4,707.2 L977.4,707.4 L979.4,707.5 L981.4,707.6 L983.4,707.8 L985.4,707.9 L987.4,708.0 L989.4,708.2 L991.4,708.3 L993.4,708.4 L995.4,708.5 L997.4,708.6 L999.4,708.7 L1001.4,708.8 L1003.4,708.9 L1005.4,709.0 L1007.4,709.1 L1009.4,709.2 L1011.4,709.3 L1013.4,709.4 L1015.4,709.5 L1017.4,709.6 L1019.4,709.7 L1021.4,709.8 L1023.4,709.9 L1025.4,709.9 L1027.4,710.0 L1029.4,710.1 L1031.4,710.2 L1033.4,710.3 L1035.4,710.3 L1037.4,710.4 L1039.4,710.5 L1041.4,710.5 L1043.4,710.6 L1045.4,710.7 L1047.4,710.7 L1049.4,710.8 L1051.4,710.9 L1053.4,710.9 L1055.4,711.0 L1057.4,711.1 L1059.4,711.1 L1061.4,711.2 L1063.4,711.2 L1065.4,711.3 L1067.4,711.3 L1069.4,711.4 L1071.4,711.5 L1073.4,711.5 L1075.4,711.6 L1077.4,711.6 L1079.4,711.7 L1081.4,711.7 L1083.4,711.8 L1085.4,711.8 L1087.4,711.9 L1089.4,711.9 L1091.4,712.0 L1093.4,712.0 L1095.4,712.1 L1097.4,712.1 L1099.4,712.2 L1101.4,712.2 L1103.4,712.3 L1105.4,712.4 L1107.4,712.4 L1109.4,712.5 L1111.4,712.5 L1113.4,712.6 L1115.4,712.6 L1117.4,712.7 L1119.4,712.7 L1121.4,712.8 L1123.4,712.8 L1125.4,712.9 L1127.4,713.0 L1129.4,713.0 L1131.4,713.1 L1133.4,713.1 L1135.4,713.2 L1137.4,713.2 L1139.4,713.3 L1141.4,713.4 L1143.4,713.4 L1145.4,713.5 L1147.4,713.5 L1149.5,713.6 L1151.5,713.7 L1153.5,713.7 L1155.5,713.8 L1157.5,713.8 L1159.5,713.9 L1161.5,714.0 L1163.5,714.0 L1165.5,714.1 L1167.5,714.1 L1169.5,714.2 L1171.5,714.3 L1173.5,714.3 L1175.5,714.4 L1177.5,714.4 L1179.5,714.5 L1181.5,714.6 L1183.5,714.6 L1185.5,714.7 L1187.5,714.7 L1189.5,714.8 L1191.5,714.9 L1193.5,714.9 L1195.5,715.0 L1197.5,715.1 L1199.5,715.1 L1201.5,715.2 L1203.5,715.2 L1205.5,715.3 L1207.5,715.4 L1209.5,715.4 L1211.5,715.5 L1213.5,715.6 L1215.5,715.6 L1217.5,715.7 L1219.5,715.7 L1221.5,715.8 L1223.5,715.9 L1225.5,715.9 L1227.5,716.0 L1229.5,716.1 L1231.5,716.1 L1233.5,716.2 L1235.5,716.3 L1237.5,716.3 L1239.5,716.4 L1241.5,716.4 L1243.5,716.5 L1245.5,716.6 L1247.5,716.6 L1249.5,716.7 L1251.5,716.8 L1253.5,716.8 L1255.5,716.9 L1257.5,716.9 L1259.5,717.0 L1261.5,717.1 L1263.5,717.1 L1265.5,717.2 L1267.5,717.3 L1269.5,717.3 L1271.5,717.4 L1273.5,717.4 L1275.5,717.5 L1277.5,717.6 L1279.5,717.6 L1281.5,717.7 L1283.5,717.8 L1285.5,717.8 L1287.5,717.9 L1289.5,717.9 L1291.5,718.0 L1293.6,718.1 L1295.6,718.1 L1297.6,718.2 L1299.6,718.2 L1301.6,718.3 L1303.6,718.4 L1305.6,718.4 L1307.6,718.5 L1309.6,718.5 L1311.6,718.6 L1313.6,718.7 L1315.6,718.7 L1317.6,718.8 L1319.6,718.8 L1321.6,718.9 L1323.6,719.0 L1325.6,719.0 L1327.6,719.1 L1329.6,719.1 L1331.6,719.2 L1333.6,719.2 L1335.6,719.3 L1337.6,719.4 L1339.6,719.4 L1341.6,719.5 L1343.6,719.5 L1345.6,719.6 L1347.6,719.6 L1349.6,719.7 L1351.6,719.7 L1353.6,719.8 L1355.6,719.9 L1357.6,719.9 L1359.6,720.0 L1361.6,720.0 L1363.6,720.1 L1365.6,720.1 L1367.6,720.2 L1369.6,720.2 L1371.6,720.3 L1373.6,720.3 L1375.6,720.4 L1377.6,720.4 L1379.6,720.5 L1381.6,720.5 L1383.6,720.6 L1385.6,720.6 L1387.6,720.7 L1389.6,720.7 L1391.6,720.8 L1393.6,720.8 L1395.6,720.9 L1397.6,720.9 L1399.6,721.0 L1401.6,721.0 L1403.6,721.1 L1405.6,721.1 L1407.6,721.2 L1409.6,721.2 L1411.6,721.2 L1413.6,721.3 L1415.6,721.3 L1417.7,721.4 L1419.7,721.4 L1421.7,721.5 L1423.7,721.5 L1425.7,721.6 L1427.7,721.6 L1429.7,721.6 L1431.7,721.7 L1433.7,721.7 L1435.7,721.8 L1437.7,721.8 L1439.7,721.9 L1441.7,721.9 L1443.7,721.9 L1445.7,722.0 L1447.7,722.0 L1449.7,722.1 L1451.7,722.1 L1453.7,722.1 L1455.7,722.2 L1457.7,722.2 L1459.7,722.3 L1461.7,722.3 L1463.7,722.3 L1465.7,722.4 L1467.7,722.4 L1469.7,722.4 L1471.7,722.5 L1473.7,722.5 L1475.7,722.6 L1477.7,722.6 L1479.7,722.6 L1481.7,722.7 L1483.7,722.7 L1485.7,722.7 L1487.7,722.8 L1489.7,722.8 L1491.7,722.8 L1493.7,722.9 L1495.7,722.9 L1497.7,722.9 L1499.7,723.0 L1501.7,723.0 L1503.7,723.0 L1505.7,723.1 L1507.7,723.1 L1509.7,723.1 L1511.7,723.2 L1513.7,723.2 L1515.7,723.2 L1517.7,723.3 L1519.8,723.3 L1521.8,723.3 L1523.8,723.4 L1525.8,723.4 L1527.8,723.4 L1529.8,723.5 L1531.8,723.5 L1533.8,723.5 L1535.8,723.5 L1537.8,723.6 L1539.8,723.6 L1541.8,723.6 L1543.8,723.7 L1545.8,723.7 L1547.8,723.7 L1549.8,723.7 L1551.8,723.8 L1553.8,723.8 L1555.8,723.8 L1557.8,723.8 L1559.8,723.9 L1561.8,723.9 L1563.8,723.9 L1565.8,723.9 L1567.8,724.0 L1569.8,724.0 L1571.8,724.0 L1573.8,724.0 L1575.8,724.1 L1577.8,724.1 L1579.8,724.1 L1581.8,724.1 L1583.8,724.2 L1585.8,724.2 L1587.8,724.2 L1589.8,724.2 L1591.8,724.2 L1593.8,724.3 L1595.8,724.3 L1597.8,724.3 L1599.8,724.3 L1601.8,724.4 L1603.8,724.4 L1605.8,724.4 L1607.8,724.4 L1609.9,724.4 L1611.9,724.5 L1613.9,724.5 L1615.9,724.5 L1617.9,724.5 L1619.9,724.5 L1621.9,724.5 L1623.9,724.6 L1625.9,724.6 L1627.9,724.6 L1629.9,724.6 L1631.9,724.6 L1633.9,724.7 L1635.9,724.7 L1637.9,724.7 L1639.9,724.7 L1641.9,724.7 L1643.9,724.7 L1645.9,724.7 L1647.9,724.8 L1649.9,724.8 L1651.9,724.8 L1653.9,724.8 L1655.9,724.8 L1657.9,724.8 L1659.9,724.8 L1661.9,724.9 L1663.9,724.9 L1665.9,724.9 L1667.9,724.9 L1669.9,724.9 L1671.9,724.9 L1673.9,724.9 L1675.9,724.9 L1677.9,725.0 L1679.9,725.0 L1681.9,725.0 L1683.9,725.0 L1685.9,725.0 L1687.9,725.0 L1689.9,725.0 L1691.9,725.0 L1693.9,725.0 L1695.9,725.1 L1698.0,725.1 L1700.0,725.1 L1702.0,725.1 L1704.0,725.1 L1706.0,725.1 L1708.0,725.1 L1710.0,725.1 L1712.0,725.1 L1714.0,725.1 L1716.0,725.1 L1718.0,725.1 L1720.0,725.2 L1722.0,725.2 L1724.0,725.2 L1726.0,725.2 L1728.0,725.2 L1730.0,725.2 L1732.0,725.2 L1734.0,725.2 L1736.0,725.2 L1738.0,725.2 L1740.0,725.2" fill="none" stroke="#6AA7DF" stroke-width="11.2" stroke-linejoin="round" stroke-linecap="butt"/>
<path d="M145.4,910.1 L147.4,910.1 L149.4,910.1 L151.4,910.1 L153.4,910.1 L155.4,910.0 L157.4,910.0 L159.4,909.8 L161.4,909.7 L163.4,909.5 L165.4,909.3 L167.4,909.0 L169.3,908.7 L171.3,908.3 L173.3,907.9 L175.2,907.3 L177.1,906.8 L179.0,906.1 L180.9,905.4 L182.7,904.6 L184.5,903.7 L186.3,902.8 L188.1,901.8 L189.8,900.8 L191.5,899.8 L193.2,898.7 L194.8,897.6 L196.5,896.4 L198.1,895.3 L199.8,894.2 L201.4,893.0 L203.1,891.9 L204.7,890.8 L206.4,889.7 L208.1,888.6 L209.8,887.6 L211.6,886.6 L213.3,885.6 L215.1,884.7 L217.0,883.9 L218.8,883.2 L220.7,882.6 L222.7,882.2 L224.7,881.9 L226.7,881.7 L228.7,881.8 L230.7,882.0 L232.6,882.4 L234.6,882.9 L236.5,883.5 L238.3,884.2 L240.2,885.0 L242.0,885.8 L243.8,886.6 L245.6,887.5 L247.4,888.4 L249.2,889.4 L251.0,890.3 L252.8,891.2 L254.6,892.1 L256.4,892.9 L258.2,893.7 L260.1,894.5 L261.9,895.2 L263.8,895.8 L265.8,896.3 L267.7,896.8 L269.7,897.1 L271.7,897.3 L273.7,897.5 L275.7,897.6 L277.7,897.6 L279.7,897.6 L281.7,897.6 L283.7,897.6 L285.7,897.7 L287.7,897.7 L289.7,897.7 L291.7,897.7 L293.7,897.8 L295.7,897.8 L297.7,897.9 L299.7,898.0 L301.7,898.1 L303.7,898.1 L305.7,898.2 L307.7,898.3 L309.7,898.4 L311.7,898.5 L313.7,898.6 L315.7,898.7 L317.7,898.8 L319.7,899.0 L321.7,899.1 L323.7,899.2 L325.7,899.3 L327.7,899.4 L329.7,899.6 L331.7,899.7 L333.7,899.8 L335.7,899.9 L337.7,900.1 L339.7,900.2 L341.7,900.3 L343.7,900.4 L345.7,900.6 L347.7,900.7 L349.7,900.8 L351.7,900.9 L353.7,901.0 L355.7,901.1 L357.7,901.2 L359.7,901.3 L361.7,901.4 L363.7,901.5 L365.7,901.6 L367.7,901.6 L369.7,901.7 L371.7,901.8 L373.7,901.8 L375.7,901.9 L377.7,901.9 L379.7,901.9 L381.7,901.9 L383.7,901.9 L385.7,901.9 L387.7,901.9 L389.8,901.9 L391.8,901.9 L393.8,901.8 L395.8,901.8 L397.8,901.7 L399.8,901.6 L401.8,901.5 L403.8,901.4 L405.8,901.3 L407.8,901.2 L409.8,901.0 L411.8,900.9 L413.8,900.7 L415.7,900.5 L417.7,900.3 L419.7,900.1 L421.7,899.9 L423.7,899.7 L425.7,899.5 L427.7,899.3 L429.7,899.1 L431.7,898.8 L433.7,898.6 L435.7,898.4 L437.6,898.1 L439.6,897.9 L441.6,897.6 L443.6,897.4 L445.6,897.1 L447.6,896.9 L449.6,896.6 L451.6,896.3 L453.5,896.0 L455.5,895.7 L457.5,895.3 L459.4,894.8 L461.4,894.3 L463.3,893.7 L465.1,893.0 L467.0,892.3 L468.8,891.5 L470.6,890.6 L472.4,889.6 L474.1,888.6 L475.8,887.5 L477.5,886.4 L479.1,885.2 L480.6,884.0 L482.2,882.7 L483.7,881.3 L485.1,880.0 L486.6,878.6 L488.0,877.1 L489.3,875.6 L490.6,874.1 L491.9,872.6 L493.2,871.0 L494.4,869.5 L495.6,867.8 L496.7,866.2 L497.9,864.6 L499.0,862.9 L500.1,861.2 L501.1,859.5 L502.2,857.8 L503.2,856.1 L504.2,854.3 L505.1,852.6 L506.1,850.8 L507.0,849.0 L507.9,847.2 L508.8,845.5 L509.7,843.7 L510.6,841.9 L511.4,840.0 L512.3,838.2 L513.1,836.4 L513.9,834.6 L514.6,832.7 L515.4,830.9 L516.2,829.0 L516.9,827.1 L517.6,825.3 L518.3,823.4 L519.0,821.5 L519.7,819.6 L520.3,817.7 L520.9,815.8 L521.6,813.9 L522.2,812.0 L522.8,810.1 L523.3,808.2 L523.9,806.2 L524.4,804.3 L524.9,802.4 L525.5,800.4 L526.0,798.5 L526.4,796.6 L526.9,794.6 L527.4,792.7 L527.9,790.7 L528.4,788.8 L528.9,786.9 L529.5,784.9 L530.0,783.0 L530.6,781.1 L531.3,779.2 L532.0,777.3 L532.7,775.4 L533.4,773.6 L534.2,771.8 L535.1,770.0 L536.1,768.2 L537.1,766.5 L538.3,764.9 L539.6,763.4 L541.1,762.1 L542.9,761.2 L544.9,760.9 L546.8,761.2 L548.6,762.2 L550.2,763.4 L551.6,764.8 L552.9,766.3 L554.1,768.0 L555.2,769.7 L556.1,771.4 L557.1,773.2 L557.9,775.0 L558.7,776.8 L559.4,778.7 L560.1,780.6 L560.7,782.5 L561.3,784.4 L561.8,786.3 L562.3,788.3 L562.8,790.2 L563.3,792.2 L563.7,794.1 L564.1,796.1 L564.6,798.0 L565.0,800.0 L565.4,802.0 L565.8,803.9 L566.3,805.9 L566.7,807.8 L567.1,809.8 L567.5,811.7 L568.0,813.7 L568.4,815.6 L568.9,817.6 L569.3,819.5 L569.8,821.5 L570.2,823.4 L570.7,825.4 L571.2,827.3 L571.7,829.3 L572.2,831.2 L572.7,833.1 L573.3,835.1 L573.8,837.0 L574.4,838.9 L575.0,840.8 L575.6,842.8 L576.2,844.7 L576.8,846.6 L577.4,848.5 L578.1,850.3 L578.8,852.2 L579.5,854.1 L580.2,856.0 L581.0,857.8 L581.7,859.7 L582.5,861.5 L583.3,863.4 L584.1,865.2 L584.9,867.0 L585.8,868.9 L586.6,870.7 L587.5,872.5 L588.4,874.3 L589.3,876.0 L590.2,877.8 L591.2,879.6 L592.1,881.3 L593.1,883.1 L594.1,884.8 L595.2,886.5 L596.2,888.2 L597.3,889.9 L598.4,891.6 L599.6,893.2 L600.8,894.8 L602.0,896.4 L603.3,897.9 L604.6,899.5 L606.0,900.9 L607.4,902.4 L608.8,903.8 L610.3,905.1 L611.8,906.4 L613.4,907.6 L615.0,908.8 L616.7,909.9 L618.4,910.9 L620.1,911.9 L621.9,912.8 L623.7,913.7 L625.6,914.5 L627.4,915.3 L629.3,916.0 L631.2,916.7 L633.0,917.4 L634.9,918.0 L636.9,918.6 L638.8,919.2 L640.7,919.8 L642.6,920.3 L644.5,920.9 L646.5,921.5 L648.4,922.0 L650.3,922.5 L652.2,923.1 L654.2,923.6 L656.1,924.1 L658.1,924.6 L660.0,925.1 L661.9,925.6 L663.9,926.1 L665.8,926.5 L667.8,927.0 L669.7,927.4 L671.7,927.9 L673.6,928.3 L675.6,928.7 L677.6,929.2 L679.5,929.6 L681.5,930.0 L683.4,930.4 L685.4,930.8 L687.4,931.1 L689.3,931.5 L691.3,931.9 L693.3,932.2 L695.3,932.5 L697.2,932.9 L699.2,933.2 L701.2,933.5 L703.2,933.8 L705.2,934.1 L707.1,934.4 L709.1,934.7 L711.1,935.0 L713.1,935.2 L715.1,935.5 L717.1,935.7 L719.1,936.0 L721.0,936.2 L723.0,936.4 L725.0,936.6 L727.0,936.8 L729.0,937.0 L731.0,937.2 L733.0,937.4 L735.0,937.6 L737.0,937.8 L739.0,937.9 L741.0,938.1 L743.0,938.2 L745.0,938.4 L747.0,938.5 L749.0,938.6 L751.0,938.7 L753.0,938.8 L755.0,939.0 L757.0,939.1 L759.0,939.2 L761.0,939.2 L763.0,939.3 L765.0,939.4 L767.0,939.5 L769.0,939.6 L771.0,939.6 L773.0,939.7 L775.0,939.7 L777.0,939.8 L779.0,939.8 L781.0,939.9 L783.0,939.9 L785.0,939.9 L787.0,940.0 L789.0,940.0 L791.0,940.0 L793.0,940.0 L795.0,940.0 L797.0,940.0 L799.0,940.0 L801.0,940.1 L803.0,940.0 L805.0,940.0 L807.0,940.0 L809.0,940.0 L811.0,940.0 L813.0,940.0 L815.1,940.0 L817.1,940.0 L819.1,939.9 L821.1,939.9 L823.1,939.9 L825.1,939.9 L827.1,939.8 L829.1,939.8 L831.1,939.8 L833.1,939.7 L835.1,939.7 L837.1,939.7 L839.1,939.6 L841.1,939.6 L843.1,939.5 L845.1,939.5 L847.1,939.5 L849.1,939.4 L851.1,939.4 L853.1,939.3 L855.1,939.3 L857.1,939.3 L859.1,939.2 L861.1,939.2 L863.1,939.1 L865.1,939.1 L867.1,939.1 L869.1,939.0 L871.1,939.0 L873.1,939.0 L875.1,939.0 L877.1,938.9 L879.1,938.9 L881.1,938.9 L883.1,938.9 L885.1,938.8 L887.2,938.8 L889.2,938.8 L891.2,938.8 L893.2,938.8 L895.2,938.8 L897.2,938.8 L899.2,938.8 L901.2,938.8 L903.2,938.8 L905.2,938.9 L907.2,938.9 L909.2,938.9 L911.2,938.9 L913.2,939.0 L915.2,939.0 L917.2,939.1 L919.2,939.1 L921.2,939.2 L923.2,939.2 L925.2,939.3 L927.2,939.4 L929.2,939.5 L931.2,939.5 L933.2,939.6 L935.2,939.7 L937.2,939.8 L939.2,940.0 L941.2,940.1 L943.2,940.2 L945.2,940.3 L947.2,940.5 L949.2,940.6 L951.2,940.8 L953.2,941.0 L955.2,941.1 L957.2,941.3 L959.2,941.5 L961.2,941.7 L963.2,941.9 L965.2,942.0 L967.2,942.2 L969.2,942.4 L971.1,942.6 L973.1,942.8 L975.1,943.0 L977.1,943.2 L979.1,943.4 L981.1,943.5 L983.1,943.7 L985.1,943.9 L987.1,944.1 L989.1,944.2 L991.1,944.4 L993.1,944.6 L995.1,944.7 L997.1,944.8 L999.1,945.0 L1001.1,945.1 L1003.1,945.2 L1005.1,945.4 L1007.1,945.5 L1009.1,945.6 L1011.1,945.7 L1013.1,945.8 L1015.1,945.9 L1017.1,946.0 L1019.1,946.1 L1021.1,946.1 L1023.1,946.2 L1025.1,946.3 L1027.1,946.4 L1029.1,946.4 L1031.1,946.5 L1033.1,946.6 L1035.1,946.6 L1037.1,946.7 L1039.1,946.7 L1041.1,946.8 L1043.1,946.8 L1045.1,946.9 L1047.1,946.9 L1049.1,947.0 L1051.1,947.0 L1053.1,947.0 L1055.1,947.1 L1057.1,947.1 L1059.1,947.1 L1061.1,947.2 L1063.1,947.2 L1065.1,947.2 L1067.1,947.3 L1069.1,947.3 L1071.1,947.3 L1073.2,947.4 L1075.2,947.4 L1077.2,947.4 L1079.2,947.5 L1081.2,947.5 L1083.2,947.5 L1085.2,947.6 L1087.2,947.6 L1089.2,947.6 L1091.2,947.7 L1093.2,947.7 L1095.2,947.7 L1097.2,947.8 L1099.2,947.8 L1101.2,947.8 L1103.2,947.9 L1105.2,947.9 L1107.2,948.0 L1109.2,948.0 L1111.2,948.0 L1113.2,948.1 L1115.2,948.1 L1117.2,948.2 L1119.2,948.2 L1121.2,948.2 L1123.2,948.3 L1125.2,948.3 L1127.2,948.4 L1129.2,948.4 L1131.2,948.5 L1133.2,948.5 L1135.2,948.6 L1137.2,948.6 L1139.2,948.7 L1141.2,948.7 L1143.2,948.8 L1145.2,948.8 L1147.3,948.8 L1149.3,948.9 L1151.3,948.9 L1153.3,949.0 L1155.3,949.0 L1157.3,949.1 L1159.3,949.1 L1161.3,949.2 L1163.3,949.2 L1165.3,949.3 L1167.3,949.4 L1169.3,949.4 L1171.3,949.5 L1173.3,949.5 L1175.3,949.6 L1177.3,949.6 L1179.3,949.7 L1181.3,949.7 L1183.3,949.8 L1185.3,949.8 L1187.3,949.9 L1189.3,949.9 L1191.3,950.0 L1193.3,950.1 L1195.3,950.1 L1197.3,950.2 L1199.3,950.2 L1201.3,950.3 L1203.3,950.3 L1205.3,950.4 L1207.3,950.5 L1209.3,950.5 L1211.3,950.6 L1213.3,950.6 L1215.3,950.7 L1217.3,950.7 L1219.3,950.8 L1221.3,950.9 L1223.3,950.9 L1225.3,951.0 L1227.3,951.0 L1229.3,951.1 L1231.3,951.2 L1233.3,951.2 L1235.4,951.3 L1237.4,951.3 L1239.4,951.4 L1241.4,951.5 L1243.4,951.5 L1245.4,951.6 L1247.4,951.6 L1249.4,951.7 L1251.4,951.8 L1253.4,951.8 L1255.4,951.9 L1257.4,952.0 L1259.4,952.0 L1261.4,952.1 L1263.4,952.1 L1265.4,952.2 L1267.4,952.3 L1269.4,952.3 L1271.4,952.4 L1273.4,952.4 L1275.4,952.5 L1277.4,952.6 L1279.4,952.6 L1281.4,952.7 L1283.4,952.7 L1285.4,952.8 L1287.4,952.9 L1289.4,952.9 L1291.4,953.0 L1293.4,953.1 L1295.4,953.1 L1297.4,953.2 L1299.4,953.2 L1301.4,953.3 L1303.4,953.4 L1305.4,953.4 L1307.4,953.5 L1309.4,953.5 L1311.4,953.6 L1313.4,953.7 L1315.4,953.7 L1317.4,953.8 L1319.4,953.8 L1321.4,953.9 L1323.4,954.0 L1325.4,954.0 L1327.4,954.1 L1329.5,954.1 L1331.5,954.2 L1333.5,954.3 L1335.5,954.3 L1337.5,954.4 L1339.5,954.4 L1341.5,954.5 L1343.5,954.5 L1345.5,954.6 L1347.5,954.7 L1349.5,954.7 L1351.5,954.8 L1353.5,954.8 L1355.5,954.9 L1357.5,954.9 L1359.5,955.0 L1361.5,955.1 L1363.5,955.1 L1365.5,955.2 L1367.5,955.2 L1369.5,955.3 L1371.5,955.3 L1373.5,955.4 L1375.5,955.4 L1377.5,955.5 L1379.5,955.6 L1381.5,955.6 L1383.5,955.7 L1385.5,955.7 L1387.5,955.8 L1389.5,955.8 L1391.5,955.9 L1393.5,955.9 L1395.5,956.0 L1397.5,956.0 L1399.5,956.1 L1401.5,956.1 L1403.5,956.2 L1405.5,956.2 L1407.5,956.3 L1409.5,956.3 L1411.5,956.4 L1413.5,956.4 L1415.6,956.5 L1417.6,956.5 L1419.6,956.6 L1421.6,956.6 L1423.6,956.7 L1425.6,956.7 L1427.6,956.8 L1429.6,956.8 L1431.6,956.9 L1433.6,956.9 L1435.6,957.0 L1437.6,957.0 L1439.6,957.1 L1441.6,957.1 L1443.6,957.2 L1445.6,957.2 L1447.6,957.3 L1449.6,957.3 L1451.6,957.4 L1453.6,957.4 L1455.6,957.4 L1457.6,957.5 L1459.6,957.5 L1461.6,957.6 L1463.6,957.6 L1465.6,957.7 L1467.6,957.7 L1469.6,957.8 L1471.6,957.8 L1473.6,957.8 L1475.6,957.9 L1477.6,957.9 L1479.6,958.0 L1481.6,958.0 L1483.6,958.1 L1485.6,958.1 L1487.6,958.1 L1489.6,958.2 L1491.6,958.2 L1493.6,958.3 L1495.7,958.3 L1497.7,958.4 L1499.7,958.4 L1501.7,958.4 L1503.7,958.5 L1505.7,958.5 L1507.7,958.6 L1509.7,958.6 L1511.7,958.6 L1513.7,958.7 L1515.7,958.7 L1517.7,958.7 L1519.7,958.8 L1521.7,958.8 L1523.7,958.9 L1525.7,958.9 L1527.7,958.9 L1529.7,959.0 L1531.7,959.0 L1533.7,959.1 L1535.7,959.1 L1537.7,959.1 L1539.7,959.2 L1541.7,959.2 L1543.7,959.2 L1545.7,959.3 L1547.7,959.3 L1549.7,959.3 L1551.7,959.4 L1553.7,959.4 L1555.7,959.4 L1557.7,959.5 L1559.7,959.5 L1561.7,959.5 L1563.7,959.6 L1565.7,959.6 L1567.7,959.6 L1569.8,959.7 L1571.8,959.7 L1573.8,959.7 L1575.8,959.8 L1577.8,959.8 L1579.8,959.8 L1581.8,959.9 L1583.8,959.9 L1585.8,959.9 L1587.8,960.0 L1589.8,960.0 L1591.8,960.0 L1593.8,960.1 L1595.8,960.1 L1597.8,960.1 L1599.8,960.1 L1601.8,960.2 L1603.8,960.2 L1605.8,960.2 L1607.8,960.3 L1609.8,960.3 L1611.8,960.3 L1613.8,960.3 L1615.8,960.4 L1617.8,960.4 L1619.8,960.4 L1621.8,960.4 L1623.8,960.5 L1625.8,960.5 L1627.8,960.5 L1629.8,960.6 L1631.8,960.6 L1633.8,960.6 L1635.8,960.6 L1637.8,960.7 L1639.9,960.7 L1641.9,960.7 L1643.9,960.7 L1645.9,960.7 L1647.9,960.8 L1649.9,960.8 L1651.9,960.8 L1653.9,960.8 L1655.9,960.9 L1657.9,960.9 L1659.9,960.9 L1661.9,960.9 L1663.9,961.0 L1665.9,961.0 L1667.9,961.0 L1669.9,961.0 L1671.9,961.0 L1673.9,961.1 L1675.9,961.1 L1677.9,961.1 L1679.9,961.1 L1681.9,961.1 L1683.9,961.2 L1685.9,961.2 L1687.9,961.2 L1689.9,961.2 L1691.9,961.2 L1693.9,961.3 L1695.9,961.3 L1697.9,961.3 L1699.9,961.3 L1701.9,961.3 L1703.9,961.3 L1705.9,961.4 L1708.0,961.4 L1710.0,961.4 L1712.0,961.4 L1714.0,961.4 L1716.0,961.4 L1718.0,961.5 L1720.0,961.5 L1722.0,961.5 L1724.0,961.5 L1726.0,961.5 L1728.0,961.5 L1730.0,961.5 L1732.0,961.6 L1734.0,961.6 L1736.0,961.6 L1738.0,961.6 L1740.0,961.6" fill="none" stroke="#0E3B8A" stroke-width="11.2" stroke-linejoin="round" stroke-linecap="butt"/>
<text transform="translate(329.6,1267.2)" font-size="76">20</text>
<text transform="translate(787.1,1267.2)" font-size="76">40</text>
<text transform="translate(1241.3,1267.2)" font-size="76">60</text>
<text transform="translate(1698.7,1267.2)" font-size="76">80</text>
<text transform="translate(587,1360)" font-size="94.4">2-theta (degree)</text>
<text transform="translate(72,849) rotate(-90)" font-size="76">Intensity (a.u.)</text>
<text transform="translate(1475.6,197.1)" font-size="71.8">CNH-Pt</text>
<text transform="translate(1463.8,433.8)" font-size="74.7">CNA-Pt</text>
<text transform="translate(1478.1,669.7)" font-size="72.1">CNP-Pt</text>
<text transform="translate(179.6,1096.6)" font-size="75.2">Pt PDF#04-0802</text>
<text transform="translate(1049.3,1084.7)" font-size="75.6">(200)</text>
<text transform="translate(1465,1112.2)" font-size="75.3">(220)</text>
<text x="847.7" y="1027.2" font-size="75.3">(</text>
<text transform="translate(866.5,1027.6) scale(1.4,1)" font-size="69.6" style="font-family:NanumGothic,'Liberation Sans',sans-serif">1</text>
<text transform="translate(908.3,1027.6) scale(1.4,1)" font-size="69.6" style="font-family:NanumGothic,'Liberation Sans',sans-serif">1</text>
<text transform="translate(950.1,1027.6) scale(1.4,1)" font-size="69.6" style="font-family:NanumGothic,'Liberation Sans',sans-serif">1</text>
<text x="999.6" y="1027.2" font-size="75.3">)</text>
<text transform="translate(1495.3,908) scale(1,1)" font-size="71">g-C<tspan font-size="42" dx="2" dy="29">3</tspan><tspan dx="0" dy="-29">N</tspan><tspan font-size="42" dx="0.5" dy="29">4</tspan></text>
</svg>
</body></html>
